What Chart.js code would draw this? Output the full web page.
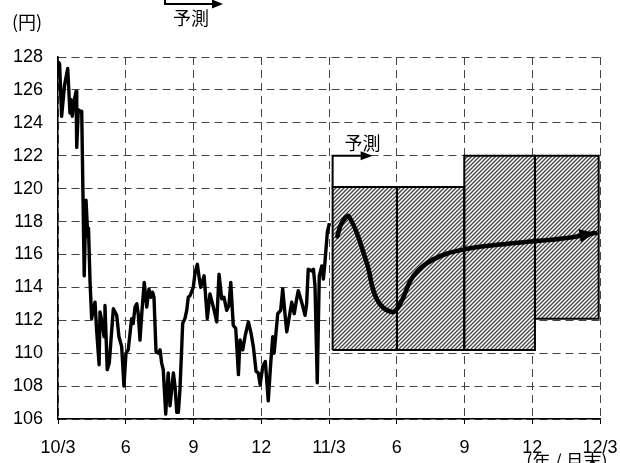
<!DOCTYPE html>
<html>
<head>
<meta charset="utf-8">
<script src="https://cdn.jsdelivr.net/npm/chart.js@4/dist/chart.umd.min.js"></script>
<style>
  html, body { margin: 0; padding: 0; background: #fff; }
  #wrap { width: 620px; height: 463px; }
</style>
</head>
<body>
<div id="wrap"><canvas id="c" width="620" height="463"></canvas></div>
<script>
// Month offsets counted from end of March 2010 (0) to end of March 2012 (24)
const tickLabels = ['10/3', '6', '9', '12', '11/3', '6', '9', '12', '12/3'];

// Actual USD/JPY (yen), month offset and rate
const histMonths = [0.01, 0.07, 0.16, 0.29, 0.43, 0.53, 0.58, 0.63, 0.71, 0.80, 0.83, 0.90, 0.97, 1.05,
  1.16, 1.24, 1.32, 1.35, 1.42, 1.49, 1.55, 1.64, 1.71, 1.82, 1.86, 1.94, 2.04, 2.08, 2.18, 2.27,
  2.45, 2.60, 2.70, 2.82, 2.92, 3.01, 3.11, 3.26, 3.33, 3.41, 3.49, 3.56, 3.63, 3.73, 3.82, 3.93,
  4.03, 4.11, 4.19, 4.25, 4.34, 4.44, 4.52, 4.59, 4.66, 4.77, 4.81, 4.88, 4.96, 5.11, 5.18, 5.26,
  5.33, 5.40, 5.48, 5.52, 5.62, 5.70, 5.77, 5.85, 5.99, 6.07, 6.17, 6.26, 6.32, 6.47, 6.61, 6.73,
  6.88, 7.03, 7.13, 7.25, 7.35, 7.47, 7.57, 7.65, 7.76, 7.87, 7.99, 8.06, 8.18, 8.28, 8.43, 8.55,
  8.65, 8.77, 8.87, 8.95, 9.07, 9.18, 9.31, 9.42, 9.51, 9.57, 9.73, 9.86, 9.95, 10.05, 10.13, 10.24,
  10.35, 10.46, 10.57, 10.64, 10.79, 10.94, 11.01, 11.08, 11.24, 11.31, 11.38, 11.48, 11.57, 11.68,
  11.75, 11.82, 11.93, 12.02];
const histRates = [127.7, 127.6, 124.4, 126.3, 127.3, 124.6, 125.4, 124.4, 125.3, 125.9, 122.5, 124.8, 124.7, 124.7,
  114.7, 119.3, 117.1, 117.6, 114.3, 112.1, 112.6, 113.1, 111.4, 109.3, 112.5, 112.0, 111.0, 112.9, 109.0, 109.4,
  112.7, 112.3, 111.0, 110.4, 108.0, 110.0, 110.2, 112.1, 111.8, 112.8, 113.0, 112.3, 110.8, 112.8, 114.3, 112.8,
  113.9, 113.4, 113.7, 113.4, 110.1, 110.0, 110.2, 109.4, 109.0, 106.3, 107.3, 108.8, 106.8, 108.8, 108.0, 106.4,
  106.4, 107.8, 110.4, 111.8, 112.1, 112.6, 113.4, 113.5, 114.0, 114.9, 115.4, 114.5, 114.0, 114.7, 112.1, 113.6,
  112.8, 111.9, 114.8, 113.3, 113.4, 112.6, 112.9, 114.3, 111.7, 111.5, 108.7, 110.8, 110.2, 111.0, 111.9, 111.2,
  110.4, 108.9, 108.8, 108.1, 109.2, 109.5, 107.1, 109.4, 111.0, 110.0, 112.4, 112.6, 113.9, 112.4, 111.3, 112.2,
  113.1, 112.4, 113.3, 113.8, 113.1, 112.3, 113.0, 115.1, 115.0, 115.1, 114.1, 108.2, 114.7, 115.3,
  114.5, 115.5, 117.4, 117.9];

// Forecast path
const fcMonths = [12.37, 12.56, 12.89, 13.67, 14.11, 14.78, 15.15, 15.74, 16.62, 17.95, 19.57, 21.05, 22.53, 23.80];
const fcRates  = [117.1, 117.9, 118.3, 115.5, 113.3, 112.5, 113.0, 114.7, 115.7, 116.3, 116.6, 116.8, 117.0, 117.3];

// Forecast ranges (low / high) per period
const rangeStart = [12.16, 15.01, 17.99, 21.12];
const rangeEnd   = [15.01, 17.99, 21.12, 23.94];
const rangeLow   = [110.2, 110.2, 110.2, 112.1];
const rangeHigh  = [120.1, 120.1, 122.0, 122.0];

const JP = '"Noto Sans CJK JP", sans-serif';
const NUM = '"Liberation Sans", Arial, sans-serif';

function hatchPattern() {
  const s = 4;
  const c = document.createElement('canvas');
  c.width = s; c.height = s;
  const g = c.getContext('2d');
  g.fillStyle = '#ffffff';
  g.fillRect(0, 0, s, s);
  g.strokeStyle = '#444';
  g.lineWidth = 1.3;
  g.beginPath();
  g.moveTo(-1, s + 1); g.lineTo(s + 1, -1);
  g.moveTo(-1, 1); g.lineTo(1, -1);
  g.moveTo(s - 1, s + 1); g.lineTo(s + 1, s - 1);
  g.stroke();
  return g.createPattern(c, 'repeat');
}
const hatch = hatchPattern();

const datasets = [];
datasets.push({
  label: 'forecast',
  data: fcMonths.map((m, i) => ({ x: m, y: fcRates[i] })),
  borderColor: '#000', borderWidth: 4.6, pointRadius: 0, tension: 0.4, fill: false,
  borderCapStyle: 'round'
});
datasets.push({
  label: 'actual',
  data: histMonths.map((m, i) => ({ x: m, y: histRates[i] })),
  borderColor: '#000', borderWidth: 3.4, pointRadius: 0, tension: 0, fill: false,
  borderJoinStyle: 'round'
});
rangeStart.forEach((x0, i) => {
  const x1 = rangeEnd[i], lo = rangeLow[i], hi = rangeHigh[i];
  datasets.push({
    label: 'range-edge-' + i,
    data: [{ x: x0, y: lo }, { x: x0, y: hi }, { x: x1, y: hi }, { x: x1, y: lo }, { x: x0, y: lo }],
    borderColor: '#000', borderWidth: 2, pointRadius: 0, tension: 0, fill: false
  });
});
rangeStart.forEach((x0, i) => {
  datasets.push({
    label: 'range-fill-' + i,
    data: [{ x: x0, y: rangeHigh[i] }, { x: rangeEnd[i], y: rangeHigh[i] }],
    borderWidth: 0, borderColor: 'rgba(0,0,0,0)', pointRadius: 0,
    backgroundColor: hatch, fill: { value: rangeLow[i] }
  });
});

function arrow(ctx, x, y, ang, len, half) {
  ctx.save();
  ctx.translate(x, y);
  ctx.rotate(ang);
  ctx.beginPath();
  ctx.moveTo(0, 0);
  ctx.lineTo(-len, -half);
  ctx.lineTo(-len, half);
  ctx.closePath();
  ctx.fillStyle = '#000';
  ctx.fill();
  ctx.restore();
}

const decorations = {
  id: 'decorations',
  afterDatasetsDraw(chart) {
    const ctx = chart.ctx;
    const xs = chart.scales.x, ys = chart.scales.y;
    // arrowhead at the end of the forecast path
    const pts = chart.getDatasetMeta(0).data;
    const a = pts[pts.length - 2], b = pts[pts.length - 1];
    arrow(ctx, b.x, b.y, Math.atan2(b.y - a.y, b.x - a.x), 16, 6.5);

    // "予測" marker above the first range
    const px = xs.getPixelForValue(rangeStart[0]);
    const pTop = ys.getPixelForValue(122);
    const pBox = ys.getPixelForValue(rangeHigh[0]);
    ctx.save();
    ctx.strokeStyle = '#000';
    ctx.lineWidth = 2;
    ctx.beginPath();
    ctx.moveTo(px, pBox);
    ctx.lineTo(px, pTop);
    ctx.lineTo(px + 30, pTop);
    ctx.stroke();
    arrow(ctx, px + 40, pTop, 0, 12, 4.5);
    ctx.fillStyle = '#000';
    ctx.font = '18px ' + JP;
    ctx.textAlign = 'center';
    ctx.textBaseline = 'middle';
    ctx.fillText('予測', px + 30, pTop - 13);
    ctx.restore();
  },
  afterDraw(chart) {
    const ctx = chart.ctx;
    ctx.save();
    ctx.fillStyle = '#000';
    ctx.strokeStyle = '#000';
    ctx.textBaseline = 'middle';
    // unit label
    ctx.font = '18px ' + JP;
    ctx.textAlign = 'left';
    ctx.fillText('(円)', 12, 22);
    // header marker
    ctx.lineWidth = 2;
    ctx.beginPath();
    ctx.moveTo(165, 0);
    ctx.lineTo(165, 4);
    ctx.lineTo(213, 4);
    ctx.stroke();
    arrow(ctx, 223, 4, 0, 11, 4.5);
    ctx.textAlign = 'center';
    ctx.fillText('予測', 191, 18);
    // axis unit
    ctx.fillText('(年 / 月末)', 567, 461);
    ctx.restore();
  }
};

new Chart(document.getElementById('c'), {
  type: 'line',
  data: { datasets },
  options: {
    responsive: false,
    animation: false,
    devicePixelRatio: 1,
    layout: { padding: { top: 57, right: 20, left: 0, bottom: 0 } },
    plugins: { legend: { display: false }, tooltip: { enabled: false } },
    scales: {
      x: {
        type: 'linear', min: 0, max: 24,
        afterFit(s) { s.height = 44; s.paddingLeft = 0; s.paddingRight = 0; },
        afterBuildTicks(s) { s.ticks = tickLabels.map((_, i) => ({ value: i * 3 })); },
        ticks: {
          callback: (v) => tickLabels[Math.round(v / 3)],
          font: { family: NUM, size: 18 }, color: '#000', padding: 13, maxRotation: 0, autoSkip: false
        },
        grid: {
          color: '#444', lineWidth: 1, drawTicks: true, tickLength: 5,
          tickColor: '#000', tickBorderDash: [], tickWidth: 1
        },
        border: { display: true, color: '#000', width: 1.5, dash: [8, 5] }
      },
      y: {
        min: 106, max: 128,
        afterFit(s) { s.width = 58; },
        ticks: { stepSize: 2, font: { family: NUM, size: 18 }, color: '#000', padding: 15 },
        grid: { color: '#444', lineWidth: 1, drawTicks: false },
        border: { display: true, color: '#000', width: 1.5, dash: [8, 5] }
      }
    }
  },
  plugins: [decorations]
});
</script>
</body>
</html>
